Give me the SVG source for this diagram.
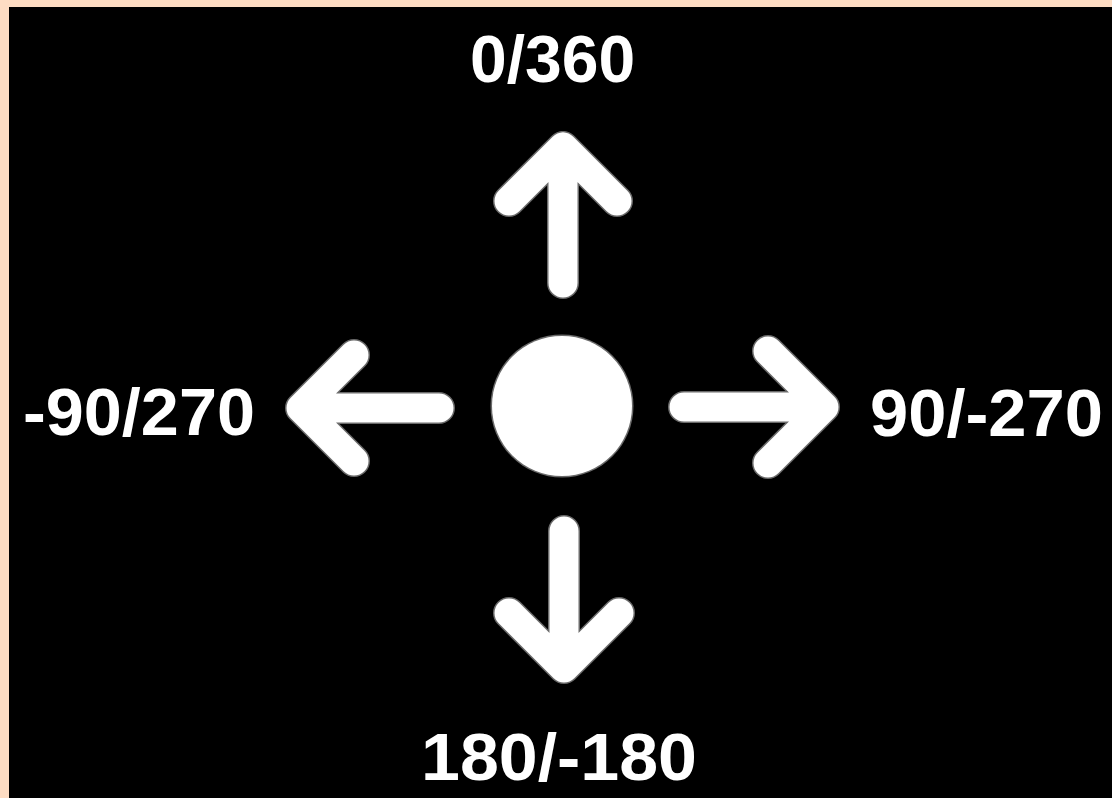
<svg xmlns="http://www.w3.org/2000/svg" width="1112" height="798" viewBox="0 0 1112 798">
  <style>
    .halo { fill: none; stroke: #6a6a6a; stroke-width: 32; stroke-linecap: round; stroke-linejoin: round; }
    .arr { fill: none; stroke: #ffffff; stroke-width: 29; stroke-linecap: round; stroke-linejoin: round; }
    .lbl { font-family: "Liberation Sans", Arial, sans-serif; font-weight: bold; font-size: 66px; fill: #ffffff; }
  </style>
  <rect x="0" y="0" width="1112" height="798" fill="#FDDCC3"/>
  <rect x="9" y="7" width="1103" height="791" fill="#000000"/>

  <g id="center">
    <circle cx="562" cy="406" r="71.5" fill="#6a6a6a"/>
    <circle cx="562" cy="406" r="70" fill="#ffffff"/>
  </g>

  <g id="connectors">
    <g id="arrow-up">
      <path class="halo" d="M563,283 V147 M509,201 L563,147 L617,201"/>
      <path class="arr" d="M563,283 V147 M509,201 L563,147 L617,201"/>
    </g>
    <g id="arrow-right">
      <path class="halo" d="M684,407 H824 M768,351 L824,407 L768,463"/>
      <path class="arr" d="M684,407 H824 M768,351 L824,407 L768,463"/>
    </g>
    <g id="arrow-left">
      <path class="halo" d="M439,408 H301 M354,355 L301,408 L354,461"/>
      <path class="arr" d="M439,408 H301 M354,355 L301,408 L354,461"/>
    </g>
    <g id="arrow-down">
      <path class="halo" d="M564,531 V668 M509,613 L564,668 L619,613"/>
      <path class="arr" d="M564,531 V668 M509,613 L564,668 L619,613"/>
    </g>
  </g>

  <g id="label-top"><text class="lbl" x="470" y="82">0/360</text></g>
  <g id="label-left"><text class="lbl" x="23" y="435" textLength="232" lengthAdjust="spacingAndGlyphs">-90/270</text></g>
  <g id="label-right"><text class="lbl" x="870" y="436" textLength="233" lengthAdjust="spacingAndGlyphs">90/-270</text></g>
  <g id="label-bottom"><text class="lbl" x="421" y="780" textLength="276" lengthAdjust="spacingAndGlyphs">180/-180</text></g>
</svg>
